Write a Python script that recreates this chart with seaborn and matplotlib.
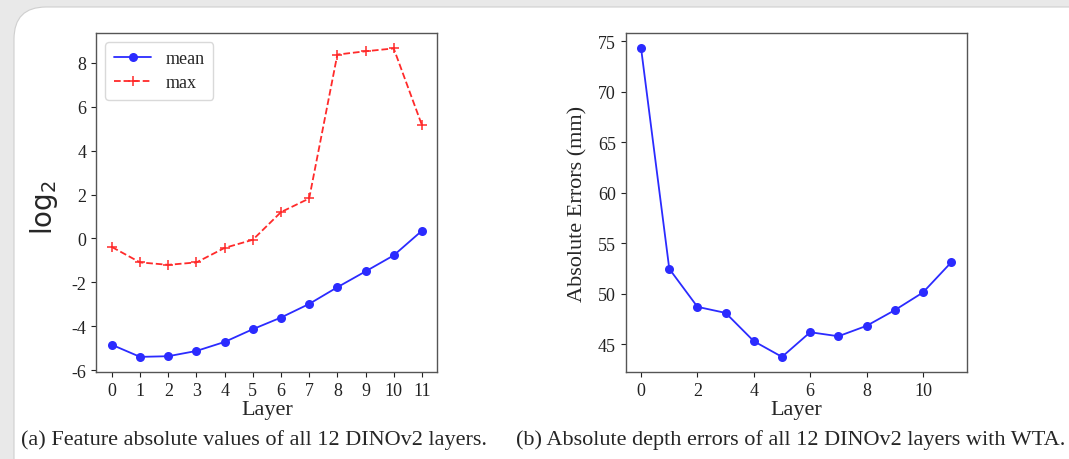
import numpy as np
import pandas as pd
import seaborn as sns
import matplotlib.pyplot as plt
from matplotlib.patches import FancyBboxPatch

# --- data ---
layers = list(range(12))
feat_mean = [-4.84, -5.39, -5.36, -5.12, -4.71, -4.13, -3.60, -2.98, -2.22, -1.50, -0.77, 0.35]
feat_max = [-0.39, -1.09, -1.20, -1.09, -0.43, -0.06, 1.20, 1.82, 8.37, 8.52, 8.65, 5.16]
abs_err = [74.27, 52.46, 48.70, 48.10, 45.30, 43.75, 46.19, 45.79, 46.82, 48.37, 50.12, 53.09]

caption_a = "(a) Feature absolute values of all 12 DINOv2 layers."
caption_b = "(b) Absolute depth errors of all 12 DINOv2 layers with WTA."

sns.set_style("ticks")
plt.rcParams['font.family'] = ['Liberation Serif', 'DejaVu Serif']
plt.rcParams['mathtext.fontset'] = 'dejavusans'
plt.rcParams['axes.unicode_minus'] = False

BLUE = '#2b2bff'
RED = '#ff2a2a'

fig = plt.figure(figsize=(10.69, 4.6), dpi=100)
fig.patch.set_facecolor('#e9e9e9')

# white card like the screenshot
card = FancyBboxPatch((14 / 1069, -0.2), 1.2, 1 - 8 / 460 + 0.2,
                      boxstyle="round,pad=0,rounding_size=0.03",
                      transform=fig.transFigure, facecolor='white',
                      edgecolor='#cfcfcf', linewidth=0.8, mutation_aspect=1069 / 460,
                      zorder=-5)
fig.patches.append(card)

ax1 = fig.add_axes([96.4 / 1069, 1 - 373.3 / 460, 341 / 1069, 339.3 / 460])
ax2 = fig.add_axes([625.6 / 1069, 1 - 373.3 / 460, 341 / 1069, 339.3 / 460])

df1 = pd.DataFrame({'layer': layers, 'mean': feat_mean, 'max': feat_max})

sns.lineplot(data=df1, x='layer', y='mean', ax=ax1, color=BLUE, marker='o',
             markersize=6.5, markeredgewidth=0, linewidth=1.3, label='mean')
sns.lineplot(data=df1, x='layer', y='max', ax=ax1, color=RED, marker='+',
             markersize=6.5, markeredgewidth=1.1, markeredgecolor=RED,
             linewidth=1.3, linestyle='--', label='max')

ax1.set_xticks(layers)
ax1.set_yticks(np.arange(-6, 9, 2))
ax1.set_xlabel('Layer', fontsize=16, labelpad=1)
ax1.set_ylabel('log$_2$', fontsize=20, family='DejaVu Sans')
ax1.yaxis.set_label_coords(-0.107, 0.49)
leg = ax1.legend(loc='upper left', fontsize=13, frameon=True, fancybox=True,
                 handlelength=2.1, borderpad=0.45, labelspacing=0.4)
leg.get_frame().set_edgecolor('#d0d0d0')

df2 = pd.DataFrame({'layer': layers, 'err': abs_err})
sns.lineplot(data=df2, x='layer', y='err', ax=ax2, color=BLUE, marker='o',
             markersize=6.5, markeredgewidth=0, linewidth=1.3)
ax2.set_xticks(range(0, 12, 2))
ax2.set_yticks(range(45, 76, 5))
ax2.set_xlabel('Layer', fontsize=16, labelpad=1)
ax2.set_ylabel('Absolute Errors (mm)', fontsize=16)
ax2.yaxis.set_label_coords(-0.112, 0.5)

for ax in (ax1, ax2):
    ax.set_facecolor('white')
    ax.tick_params(labelsize=13, length=3.5, width=0.8, colors='#222222')
    for s in ax.spines.values():
        s.set_visible(True)
        s.set_color('#555555')
        s.set_linewidth(1.0)

fig.text(21 / 1069, 1 - 440 / 460, caption_a, fontsize=16, va='center', ha='left')
fig.text(516 / 1069, 1 - 440 / 460, caption_b, fontsize=16, va='center', ha='left')

fig.savefig('out.png', dpi=100, facecolor=fig.get_facecolor())
